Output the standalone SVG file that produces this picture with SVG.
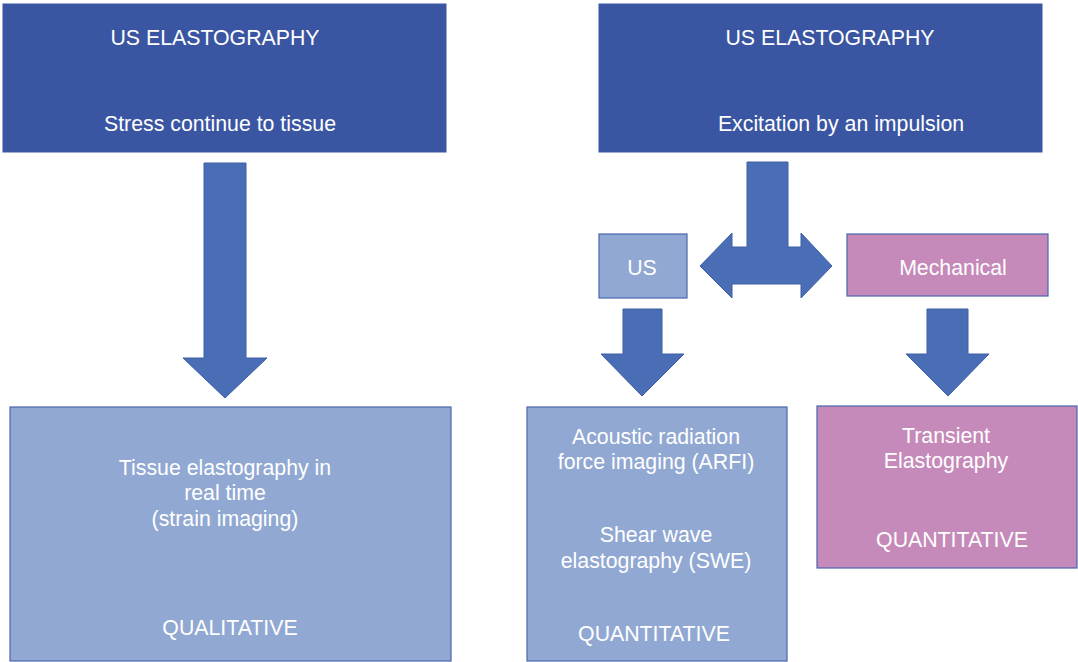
<svg xmlns="http://www.w3.org/2000/svg" width="1078" height="662" viewBox="0 0 1078 662">
<style>
text{font-family:"Liberation Sans",Arial,sans-serif;font-size:21.3px;fill:#fff;text-anchor:middle}
.dark{fill:#3A56A3;stroke:#3A56A3;stroke-width:1}
.light{fill:#91A8D3;stroke:#4A66AE;stroke-width:1.2}
.pink{fill:#C58AB9;stroke:#4A66AE;stroke-width:1.2}
.arr{fill:#4A6EB5;stroke:#3D5EA6;stroke-width:1}
</style>
<rect width="1078" height="662" fill="#fff"/>
<g id="connectors">
<polygon class="arr" points="204,163 246,163 246,358 267,358 225,398 183,358 204,358"/>
<polygon class="arr" points="747,162 788,162 788,247 801,247 801,233 832,266 801,298 801,284 732,284 732,298 700,266 732,233 732,247 747,247"/>
<polygon class="arr" points="623,309 662,309 662,354 684,354 642,396 601,354 623,354"/>
<polygon class="arr" points="927,309 968,309 968,354 989,354 948,396 906,354 927,354"/>
</g>
<g id="top-left">
<rect class="dark" x="3" y="4" width="443" height="148"/>
<text x="215" y="45">US ELASTOGRAPHY</text>
<text x="220" y="131">Stress continue to tissue</text>
</g>
<g id="top-right">
<rect class="dark" x="599" y="4" width="443" height="148"/>
<text x="830" y="45">US ELASTOGRAPHY</text>
<text x="841" y="131">Excitation by an impulsion</text>
</g>
<g id="us">
<rect class="light" x="599" y="234" width="88" height="64"/>
<text x="642" y="275">US</text>
</g>
<g id="mechanical">
<rect class="pink" x="847" y="234" width="201" height="62"/>
<text x="953" y="275">Mechanical</text>
</g>
<g id="strain">
<rect class="light" x="10" y="407" width="441" height="254"/>
<text x="225" y="475">Tissue elastography in</text>
<text x="225" y="500">real time</text>
<text x="225" y="526">(strain imaging)</text>
<text x="230" y="635">QUALITATIVE</text>
</g>
<g id="arfi">
<rect class="light" x="527" y="407" width="260" height="254"/>
<text x="656" y="444">Acoustic radiation</text>
<text x="656" y="469">force imaging (ARFI)</text>
<text x="656" y="542">Shear wave</text>
<text x="656" y="568">elastography (SWE)</text>
<text x="654" y="641">QUANTITATIVE</text>
</g>
<g id="transient">
<rect class="pink" x="817" y="406" width="260" height="162"/>
<text x="946" y="443">Transient</text>
<text x="946" y="468">Elastography</text>
<text x="952" y="547">QUANTITATIVE</text>
</g>
</svg>
